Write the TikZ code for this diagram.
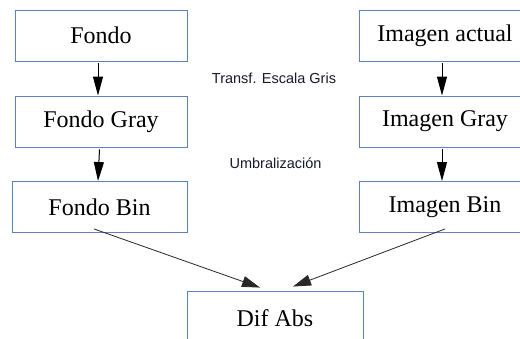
\documentclass[tikz,border=0pt]{standalone}
\usepackage{fontspec}
\setmainfont{Liberation Serif}
\newfontfamily\labelfont{Liberation Sans}
\usetikzlibrary{arrows.meta,calc}
\definecolor{boxblue}{RGB}{96,128,186}
\definecolor{linegray}{RGB}{40,40,40}
\definecolor{labelink}{RGB}{25,25,45}
\tikzset{
  procbox/.style={draw=boxblue, line width=0.9pt, fill=white, rectangle, inner sep=0pt,
    minimum width=172pt, minimum height=51pt, font=\fontsize{24}{28}\selectfont, text=black},
  steplabel/.style={font=\labelfont\fontsize{14.5}{17}\selectfont, text=labelink, inner sep=0pt},
  flowarrow/.style={line width=1pt, draw=black, -{Triangle[length=19pt,width=10pt]}},
  diagarrow/.style={line width=0.8pt, draw=linegray, -{Triangle[length=18pt,width=11pt]}}
}
\begin{document}
\begin{tikzpicture}[x=1pt,y=-1pt]
\useasboundingbox (0,0) rectangle (520,339);
\clip (0,0) rectangle (520,339);
\fill[white] (0,0) rectangle (520,339);
\node[procbox] (fondo) at (101,35.5) {Fondo};
\node[procbox] (fgray) at (101,121.5) {Fondo Gray};
\node[procbox, minimum width=175pt] (fbin) at (99.5,207) {Fondo Bin};
\node[procbox] (iact) at (445,35.5) {Imagen actual};
\node[procbox] (igray) at (445,121.5) {Imagen Gray};
\node[procbox] (ibin) at (445,207) {Imagen Bin};
\node[procbox, minimum width=176pt, minimum height=54pt] (dif) at (275,318) {Dif Abs};
\node[steplabel] (lgris) at (274,78) {Transf. Escala Gris};
\node[steplabel] (lumb) at (275.5,163) {Umbralización};
\draw[flowarrow] ([xshift=-3pt,yshift=-2pt]fondo.south) -- ([xshift=-3pt]fgray.north);
\draw[flowarrow] ([xshift=-1.5pt,yshift=-2pt]fgray.south) -- ([xshift=-1.5pt]fbin.north);
\draw[flowarrow] ([xshift=-3pt,yshift=-2pt]iact.south) -- ([xshift=-3pt]igray.north);
\draw[flowarrow] ([xshift=-3pt,yshift=-2pt]igray.south) -- ([xshift=-3pt]ibin.north);
\coordinate (dl) at ($(dif.north)+(-15pt,3pt)$);
\coordinate (dr) at ($(dif.north)+(18pt,4pt)$);
\draw[diagarrow] ([xshift=-5.5pt,yshift=4pt]fbin.south) -- (dl);
\draw[diagarrow] ([yshift=4pt]ibin.south) -- (dr);
\end{tikzpicture}
\end{document}
